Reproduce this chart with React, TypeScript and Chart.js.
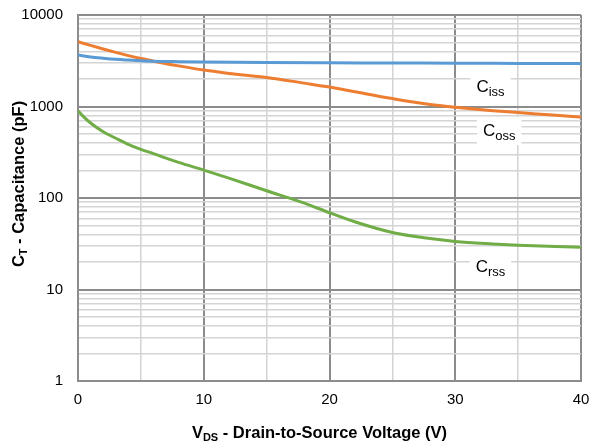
import React, { useEffect, useRef } from "react";
import { Chart, registerables } from "chart.js";

Chart.register(...registerables);

const cissX = [0, 1, 2, 3, 4, 5, 6, 8, 10, 15, 20, 25, 30, 35, 40];
const cissY = [3650, 3480, 3370, 3280, 3220, 3170, 3130, 3090, 3060, 3020, 3000, 2990, 2970, 2960, 2950];

const cossX = [0, 1, 2, 3, 4, 5, 6, 8, 10, 12, 15, 18, 20, 22, 25, 28, 30, 33, 35, 38, 40];
const cossY = [5100, 4650, 4250, 3900, 3600, 3350, 3130, 2780, 2500, 2300, 2080, 1800, 1630, 1450, 1220, 1050, 980, 900, 860, 800, 770];

const crssX = [0, 0.5, 1, 2, 3, 4, 5, 6, 8, 10, 12, 15, 18, 20, 22, 25, 28, 30, 33, 35, 38, 40];
const crssY = [900, 760, 660, 530, 450, 385, 340, 305, 245, 202, 165, 120, 88, 69, 55, 42, 36, 33.5, 31.5, 30.5, 29.5, 29];

const seriesNames = ["Ciss", "Coss", "Crss"];
const seriesColors = ["#5B9BD5", "#ED7D31", "#70AD47"];

// in-plot labels: main letter, subscript, data position
const labelMain = ["C", "C", "C"];
const labelSub = ["iss", "oss", "rss"];
const labelX = [32.8, 33.5, 32.8];
const labelY = [1630, 540, 17.6];

const yMajor = [1, 10, 100, 1000, 10000];
const xTickLabels = [0, 10, 20, 30, 40];

const FONT = "'Liberation Sans', Arial, sans-serif";

const toPts = (xs: number[], ys: number[]) => xs.map((x, i) => ({ x, y: ys[i] }));

export default function App() {
  const ref = useRef<HTMLCanvasElement | null>(null);

  useEffect(() => {
    document.body.style.margin = "0";
    const canvas = ref.current!;

    const labelsPlugin = {
      id: "inlineLabels",
      afterDatasetsDraw(chart: any) {
        const ctx = chart.ctx;
        const xs = chart.scales.x;
        const ys = chart.scales.y;
        ctx.save();
        for (let i = 0; i < labelMain.length; i++) {
          const px = xs.getPixelForValue(labelX[i]);
          const py = ys.getPixelForValue(labelY[i]);
          ctx.font = `17px ${FONT}`;
          const wMain = ctx.measureText(labelMain[i]).width;
          ctx.font = `13px ${FONT}`;
          const wSub = ctx.measureText(labelSub[i]).width;
          const w = wMain + wSub;
          ctx.fillStyle = "#ffffff";
          ctx.fillRect(px - w / 2 - 6, py - 14, w + 12, 28);
          ctx.fillStyle = "#000000";
          ctx.textBaseline = "alphabetic";
          ctx.textAlign = "left";
          ctx.font = `17px ${FONT}`;
          ctx.fillText(labelMain[i], px - w / 2, py + 5);
          ctx.font = `13px ${FONT}`;
          ctx.fillText(labelSub[i], px - w / 2 + wMain, py + 9);
        }
        ctx.restore();
      },
    };

    const titlesPlugin = {
      id: "axisTitles",
      afterDraw(chart: any) {
        const ctx = chart.ctx;
        ctx.save();
        ctx.fillStyle = "#000000";
        ctx.textBaseline = "alphabetic";
        ctx.textAlign = "left";
        const mainF = `bold 16.5px ${FONT}`;
        const subF = `bold 11px ${FONT}`;
        const xParts: [string, string, number][] = [
          ["V", mainF, 0],
          ["DS", subF, 3],
          [" - Drain-to-Source Voltage (V)", mainF, 0],
        ];
        let total = 0;
        for (const [t, f] of xParts) {
          ctx.font = f;
          total += ctx.measureText(t).width;
        }
        let cx = 319.5 - total / 2;
        const by = 438;
        for (const [t, f, dy] of xParts) {
          ctx.font = f;
          ctx.fillText(t, cx, by + dy);
          cx += ctx.measureText(t).width;
        }
        const yParts: [string, string, number][] = [
          ["C", mainF, 0],
          ["T", subF, 3],
          [" - Capacitance (pF)", mainF, 0],
        ];
        total = 0;
        for (const [t, f] of yParts) {
          ctx.font = f;
          total += ctx.measureText(t).width;
        }
        ctx.translate(24, 184);
        ctx.rotate(-Math.PI / 2);
        cx = -total / 2;
        for (const [t, f, dy] of yParts) {
          ctx.font = f;
          ctx.fillText(t, cx, dy);
          cx += ctx.measureText(t).width;
        }
        ctx.restore();
      },
    };

    const zeroPad = (scale: any) => {
      scale.paddingTop = 0;
      scale.paddingBottom = 0;
      scale.paddingLeft = 0;
      scale.paddingRight = 0;
    };

    const chart = new Chart(canvas, {
      type: "line",
      data: {
        datasets: [
          { label: seriesNames[0], data: toPts(cissX, cissY), borderColor: seriesColors[0] },
          { label: seriesNames[1], data: toPts(cossX, cossY), borderColor: seriesColors[1] },
          { label: seriesNames[2], data: toPts(crssX, crssY), borderColor: seriesColors[2] },
        ].map((d) => ({
          ...d,
          borderWidth: 3,
          pointRadius: 0,
          fill: false,
          cubicInterpolationMode: "monotone" as const,
        })),
      },
      options: {
        responsive: false,
        animation: false,
        layout: { padding: { left: 0, top: 15, right: 11, bottom: 0 } },
        plugins: { legend: { display: false }, tooltip: { enabled: false } },
        scales: {
          x: {
            type: "linear",
            min: 0,
            max: 40,
            afterFit(scale: any) {
              scale.height = 63;
              zeroPad(scale);
            },
            afterBuildTicks(scale: any) {
              const t = [];
              for (let v = 0; v <= 40; v += 5) t.push({ value: v });
              scale.ticks = t;
            },
            ticks: {
              autoSkip: false,
              maxRotation: 0,
              padding: 10,
              color: "#000000",
              font: { family: FONT, size: 15 },
              callback: (v: any) => (xTickLabels.includes(Number(v)) ? String(v) : ""),
            },
            grid: {
              drawTicks: false,
              color: (c: any) => (c.tick && Number(c.tick.value) % 10 === 0 ? "#8c8c8c" : "#d4d4d4"),
              lineWidth: (c: any) => (c.tick && Number(c.tick.value) % 10 === 0 ? 2 : 1.5),
            },
            border: { color: "#8c8c8c", width: 2 },
          },
          y: {
            type: "logarithmic",
            min: 1,
            max: 10000,
            afterFit(scale: any) {
              scale.width = 78;
              zeroPad(scale);
            },
            afterBuildTicks(scale: any) {
              const t = [];
              for (let e = 0; e < 4; e++) {
                for (let m = 1; m < 10; m++) t.push({ value: m * Math.pow(10, e), major: m === 1 });
              }
              t.push({ value: 10000, major: true });
              scale.ticks = t;
            },
            ticks: {
              autoSkip: false,
              padding: 15,
              color: "#000000",
              font: { family: FONT, size: 15 },
              callback: (v: any) => (yMajor.includes(Number(v)) ? String(v) : ""),
            },
            grid: {
              drawTicks: false,
              color: (c: any) => (c.tick && yMajor.includes(Number(c.tick.value)) ? "#8c8c8c" : "#d4d4d4"),
              lineWidth: (c: any) => (c.tick && yMajor.includes(Number(c.tick.value)) ? 2 : 1.5),
            },
            border: { color: "#8c8c8c", width: 2 },
          },
        },
      },
      plugins: [labelsPlugin, titlesPlugin],
    });
    return () => chart.destroy();
  }, []);

  return (
    <div style={{ position: "absolute", left: 0, top: 0, width: 592, height: 444 }}>
      <canvas ref={ref} width={592} height={444} style={{ display: "block" }} />
    </div>
  );
}
